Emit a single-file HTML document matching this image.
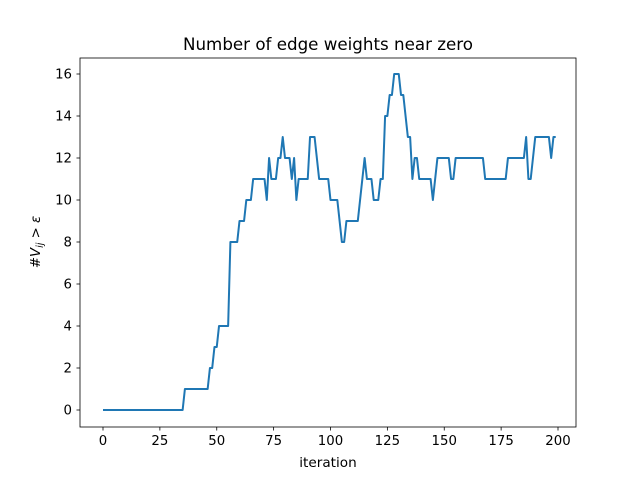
<!DOCTYPE html>
<html><head><meta charset="utf-8"><style>
body{margin:0;background:#fff}
svg{display:block;font-family:"DejaVu Sans","Liberation Sans",sans-serif}
</style></head><body>
<svg id="chart" width="640" height="480" viewBox="0 0 640 480" xmlns="http://www.w3.org/2000/svg">
<rect width="640" height="480" fill="#fff"/>
<text x="328" y="50" text-anchor="middle" font-size="16.7">Number of edge weights near zero</text>
<text x="328" y="467" text-anchor="middle" font-size="13.6">iteration</text>
<text transform="translate(40,242) rotate(-90)" text-anchor="middle" font-size="13.3" font-style="italic">#V<tspan font-size="9.5" dy="3">ij</tspan><tspan dy="-3"> &gt; ε</tspan></text>
<g id="ticks"></g>
<path id="series" fill="none" stroke="#1f77b4" stroke-width="2" stroke-linejoin="round"/>
<rect x="80" y="58" width="496" height="369" fill="none" stroke="#000" stroke-width="0.8"/>
</svg>
<script>
const xTicks=[0,25,50,75,100,125,150,175,200];
const yTicks=[0,2,4,6,8,10,12,14,16];
const values=[
0,0,0,0,0,0,0,0,0,0,0,0,0,0,0,0,0,0,0,0,0,0,0,0,0,0,0,0,0,0,0,0,0,0,0,0,
1,1,1,1,1,1,1,1,1,1,1,
2,2,3,3,4,4,4,4,4,
8,8,8,8,9,9,9,10,10,10,
11,11,11,11,11,11,10,12,11,11,11,12,12,13,12,12,12,11,12,10,
11,11,11,11,11,13,13,13,12,11,11,11,11,11,10,10,10,10,9,8,8,
9,9,9,9,9,9,10,11,12,11,11,11,10,10,10,
11,11,14,14,15,15,16,16,16,15,15,14,13,13,11,12,12,
11,11,11,11,11,11,10,11,12,12,12,12,12,12,11,11,
12,12,12,12,12,12,12,12,12,12,12,12,12,
11,11,11,11,11,11,11,11,11,11,
12,12,12,12,12,12,12,12,13,11,11,12,
13,13,13,13,13,13,13,12,13,13];
const NS="http://www.w3.org/2000/svg";
const sx=v=>103+v*2.275;
const sy=v=>410-v*21;
const g=document.getElementById('ticks');
function mk(tag,attrs){const e=document.createElementNS(NS,tag);for(const k in attrs)e.setAttribute(k,attrs[k]);return e;}
xTicks.forEach(t=>{
  const l=mk('line',{x1:sx(t),x2:sx(t),y1:427,y2:430.5,stroke:'#000','stroke-width':0.8});
  
  
  g.appendChild(l);
  const tx=mk('text',{x:sx(t),y:445,'text-anchor':'middle','font-size':13.3});
  
  
  tx.textContent=t;g.appendChild(tx);
});
yTicks.forEach(t=>{
  const l=mk('line',{x1:76.5,x2:80,y1:sy(t),y2:sy(t),stroke:'#000','stroke-width':0.8});
  
  
  g.appendChild(l);
  const tx=mk('text',{x:72,y:sy(t)+4.5,'text-anchor':'end','font-size':13.3});
  
  
  tx.textContent=t;g.appendChild(tx);
});
document.getElementById('series').setAttribute('d',values.map((v,i)=>(i?'L':'M')+sx(i).toFixed(2)+','+sy(v).toFixed(2)).join(''));
</script>
</body></html>
